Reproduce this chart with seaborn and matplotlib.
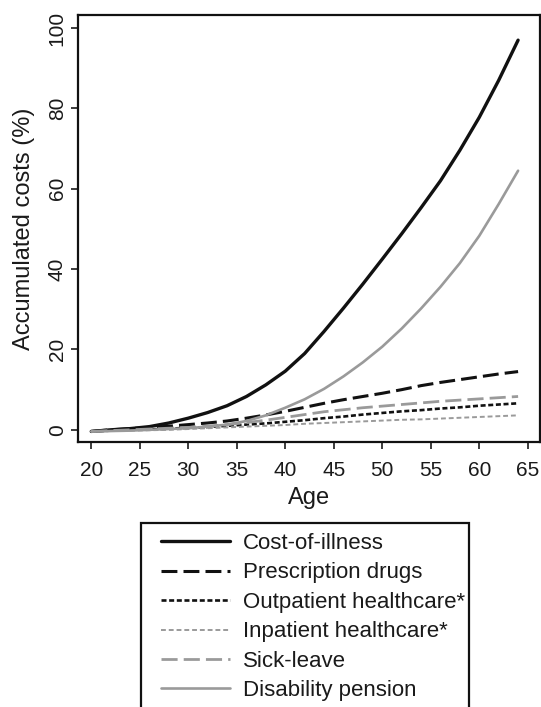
import numpy as np
import pandas as pd
import matplotlib
matplotlib.use("Agg")
import matplotlib.pyplot as plt
from matplotlib.patches import Rectangle
import seaborn as sns

# ages (every two years)
ages = [20, 22, 24, 26, 28, 30, 32, 34, 36, 38, 40, 42, 44, 46, 48, 50, 52, 54, 56, 58, 60, 62, 64]

cost_of_illness = [-0.4, 0.0, 0.3, 0.8, 1.7, 2.9, 4.3, 6.0, 8.3, 11.2, 14.6, 19.0, 24.5, 30.3, 36.3,
                   42.5, 48.8, 55.3, 62.0, 69.6, 77.8, 87.0, 97.0]
prescription_drugs = [-0.4, 0.0, 0.3, 0.6, 0.9, 1.3, 1.7, 2.2, 2.9, 3.7, 4.6, 5.6, 6.6, 7.5, 8.3,
                      9.1, 10.0, 11.0, 11.8, 12.5, 13.2, 13.9, 14.5]
outpatient = [-0.4, -0.2, 0.0, 0.1, 0.3, 0.5, 0.7, 1.0, 1.3, 1.6, 2.0, 2.4, 2.9, 3.3, 3.8,
              4.2, 4.6, 4.9, 5.3, 5.6, 6.0, 6.3, 6.6]
inpatient = [-0.4, -0.3, -0.2, -0.1, 0.0, 0.2, 0.4, 0.6, 0.8, 1.0, 1.2, 1.5, 1.7, 1.9, 2.1,
             2.3, 2.5, 2.6, 2.8, 3.0, 3.2, 3.4, 3.6]
sick_leave = [-0.4, -0.2, 0.0, 0.2, 0.4, 0.6, 0.9, 1.3, 1.8, 2.4, 3.1, 3.8, 4.5, 5.0, 5.5,
              5.9, 6.3, 6.7, 7.1, 7.4, 7.7, 8.0, 8.3]
disability_pension = [-0.4, -0.3, -0.2, 0.0, 0.2, 0.4, 0.8, 1.3, 2.2, 3.6, 5.5, 7.6, 10.2, 13.3, 16.8,
                      20.7, 25.2, 30.2, 35.6, 41.5, 48.3, 56.2, 64.5]

labels = ["Cost-of-illness", "Prescription drugs", "Outpatient healthcare*",
          "Inpatient healthcare*", "Sick-leave", "Disability pension"]
series = [cost_of_illness, prescription_drugs, outpatient, inpatient, sick_leave, disability_pension]

black = "#111111"
grey = "#9a9a9a"
styles = [
    dict(color=black, linewidth=2.4, linestyle="-"),
    dict(color=black, linewidth=2.2, linestyle=(0, (5.2, 2.0))),
    dict(color=black, linewidth=1.9, linestyle=(0, (1.9, 1.0))),
    dict(color=grey, linewidth=1.4, linestyle=(0, (2.5, 1.5))),
    dict(color=grey, linewidth=2.0, linestyle=(0, (5.8, 2.2))),
    dict(color=grey, linewidth=1.9, linestyle="-"),
]

sns.set_style("ticks")
plt.rcParams["font.family"] = ["Liberation Sans", "DejaVu Sans"]
plt.rcParams["text.color"] = "#1a1a1a"
plt.rcParams["axes.labelcolor"] = "#1a1a1a"

fig = plt.figure(figsize=(5.41, 7.07), dpi=100)
ax = fig.add_axes([0.145, 0.375, 0.853, 0.604])

for lab, vals, st in zip(labels, series, styles):
    df = pd.DataFrame({"Age": ages, "cost": vals})
    sns.lineplot(data=df, x="Age", y="cost", ax=ax, label=lab, **st)

ax.set_xlim(18.68, 66.25)
ax.set_ylim(-3.0, 103.3)
ax.set_xticks(np.arange(20, 66, 5))
ax.set_yticks([0, 20, 40, 60, 80, 100])
for lbl in ax.get_yticklabels():
    lbl.set_rotation(90)
    lbl.set_va("center")
ax.tick_params(axis="both", labelsize=15, length=5, width=1.2, color="#1a1a1a",
               labelcolor="#1a1a1a", direction="out")
ax.tick_params(axis="x", pad=9)
ax.set_xlabel("Age", fontsize=17, labelpad=5)
ax.set_ylabel("Accumulated costs (%)", fontsize=17, labelpad=9)
for sp in ax.spines.values():
    sp.set_visible(True)
    sp.set_linewidth(1.6)
    sp.set_color("#111111")

handles, labs = ax.get_legend_handles_labels()
ax.get_legend().remove()
W, H = 541, 707
leg = fig.legend(handles, labs, loc="upper left", bbox_to_anchor=(161 / W, 1 - 533 / H),
                 fontsize=16, frameon=False, handlelength=3.1, handletextpad=0.6,
                 labelspacing=0.38, borderpad=0, borderaxespad=0)
# legend frame runs past the bottom edge of the figure
fig.patches.append(Rectangle((141 / W, -0.02), 328 / W, (H - 523) / H + 0.02,
                             transform=fig.transFigure, fill=False,
                             edgecolor="#111111", linewidth=1.6))

fig.savefig("out.png", dpi=100)
